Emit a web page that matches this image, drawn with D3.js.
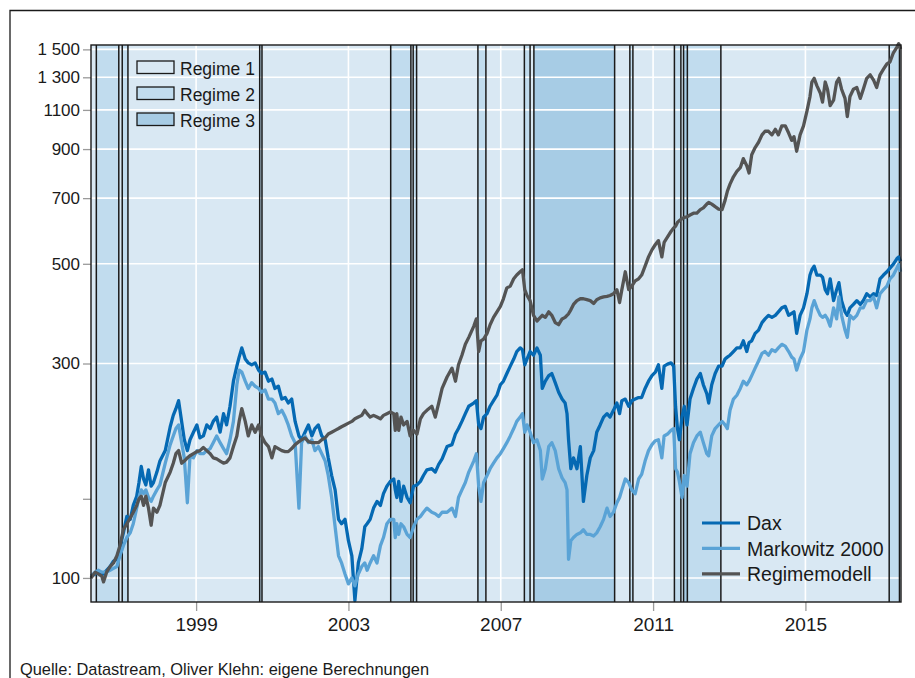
<!DOCTYPE html>
<html>
<head>
<meta charset="utf-8">
<script src="https://cdn.jsdelivr.net/npm/d3@7"></script>
<style>
  body { margin: 0; background: #fff; }
  svg { display: block; font-family: "Liberation Sans", Arial, sans-serif; }
</style>
</head>
<body>
<div id="chart-area"></div>
<script>
// time axis in decimal years, values are index points (start = 100)
const years = [
  1996.24,1996.35,1996.44,1996.52,1996.57,1996.65,1996.74,1996.83,1996.92,1997.00,
  1997.09,1997.18,1997.27,1997.35,1997.44,1997.50,1997.56,1997.62,1997.68,1997.75,
  1997.82,1997.88,1997.97,1998.05,1998.19,1998.32,1998.40,1998.47,1998.54,1998.62,
  1998.69,1998.77,1998.84,1998.93,1999.02,1999.10,1999.19,1999.28,1999.37,1999.45,
  1999.54,1999.63,1999.72,1999.80,1999.89,1999.98,2000.07,2000.13,2000.20,2000.29,
  2000.37,2000.46,2000.55,2000.64,2000.72,2000.81,2000.90,2000.99,2001.07,2001.16,
  2001.25,2001.34,2001.42,2001.51,2001.60,2001.70,2001.77,2001.86,2001.95,2002.04,
  2002.12,2002.21,2002.30,2002.39,2002.47,2002.56,2002.65,2002.74,2002.82,2002.91,
  2003.00,2003.09,2003.17,2003.26,2003.35,2003.43,
  2003.49,2003.57,2003.66,2003.75,2003.84,2003.92,2004.01,2004.10,2004.19,2004.23,
  2004.27,2004.32,2004.38,2004.45,2004.54,2004.62,2004.71,2004.80,2004.89,2004.97,
  2005.06,2005.19,2005.28,2005.37,2005.46,2005.59,2005.72,2005.81,2005.89,2005.98,
  2006.07,2006.16,2006.29,2006.36,2006.42,2006.48,2006.55,2006.64,2006.72,2006.81,
  2006.90,2006.99,2007.07,2007.16,2007.25,2007.34,2007.42,2007.51,2007.57,2007.63,
  2007.69,2007.77,2007.86,2007.95,2008.04,2008.09,2008.17,2008.26,2008.34,2008.43,
  2008.52,2008.61,2008.69,2008.74,2008.78,2008.84,2008.91,2009.00,2009.09,2009.17,
  2009.26,2009.35,2009.44,2009.52,2009.61,2009.70,2009.79,2009.87,2009.96,2010.05,
  2010.12,2010.18,2010.27,2010.36,2010.44,2010.53,2010.62,
  2010.70,2010.79,2010.88,2010.97,2011.06,2011.14,2011.23,2011.29,2011.38,2011.47,
  2011.54,2011.59,2011.64,2011.69,2011.76,2011.82,2011.89,2011.97,2012.06,2012.15,
  2012.24,2012.32,2012.41,2012.46,2012.54,2012.63,2012.72,2012.81,2012.89,2012.95,
  2013.02,2013.11,2013.20,2013.29,2013.37,2013.46,2013.52,2013.59,2013.68,2013.77,
  2013.86,2013.94,2014.03,2014.12,2014.21,2014.29,2014.38,2014.47,2014.56,2014.64,
  2014.70,2014.77,2014.86,2014.95,2015.04,2015.12,2015.17,2015.23,2015.30,2015.39,
  2015.45,2015.52,2015.58,2015.65,2015.74,2015.82,2015.88,2015.95,2016.04,2016.10,
  2016.17,2016.26,2016.35,2016.44,2016.52,2016.61,2016.70,2016.79,2016.87,2016.96,
  2017.05,2017.14,2017.22,2017.31,2017.40,2017.45,2017.50
]

const dax = [
  101,102,103,102,102,104,106,109,110,117, 126,137,135,145,152,163,177,166,161,174,
  160,163,172,182,192,217,230,238,248,223, 203,192,203,211,219,205,207,219,215,223,
  228,211,232,219,241,274,296,310,325,307, 301,298,301,290,285,287,274,277,264,267,
  250,252,245,250,223,207,203,211,219,207, 215,219,207,203,185,169,157,135,132,135,
  121,112,89,108,116,130,
  132,135,143,148,145,154,160,164,166,157, 151,164,148,160,151,147,160,161,164,169,
  174,175,172,179,184,196,198,209,215,223, 232,241,245,248,219,215,228,232,241,248,
  255,269,274,285,296,307,319,325,322,298, 307,319,313,325,313,264,274,282,285,272,
  259,250,245,232,203,175,185,175,196,148, 169,185,192,211,219,228,232,228,236,245,
  232,248,250,241,248,250,252,
  252,264,274,282,287,298,264,296,299,301, 296,241,215,203,228,241,219,250,264,277,
  285,269,257,245,269,285,296,296,307,310, 313,319,325,325,337,319,334,337,350,356,
  370,377,384,380,384,391,399,402,384,388, 391,350,384,399,429,472,485,494,472,472,
  467,438,429,463,414,438,454,414,391,384, 399,406,414,406,414,429,422,429,425,463,
  472,480,489,499,513,518,506
]

const markowitz = [
  101,103,104,103,103,103,104,105,106,112, 118,123,126,132,143,151,157,154,157,151,
  148,152,157,161,180,198,207,215,219,200, 185,147,187,185,192,189,189,192,194,200,
  207,200,194,189,203,223,269,290,287,274, 264,272,267,264,259,262,250,250,245,232,
  236,228,219,207,200,143,200,207,200,203, 192,196,189,182,169,151,130,112,108,102,
  97,100,96,102,106,108,
  104,108,112,108,118,123,132,135,135,123, 132,125,132,130,125,123,130,135,137,140,
  143,140,139,137,140,140,143,137,151,157, 163,172,182,189,160,148,163,169,175,180,
  185,189,194,200,207,215,223,228,232,211, 219,211,200,203,192,166,175,196,200,192,
  175,167,163,157,110,121,123,125,126,128, 125,125,124,126,130,135,143,137,140,147,
  151,157,166,163,157,154,166,
  170,182,192,198,202,203,185,207,209,213, 215,175,172,164,151,169,160,189,200,207,
  211,200,189,187,207,215,219,223,219,215, 236,250,255,264,274,269,274,282,293,304,
  316,319,313,322,319,325,331,328,319,310, 307,290,307,319,356,377,399,414,399,384,
  380,384,377,363,399,377,422,384,356,343, 384,377,384,399,399,414,414,422,399,429,
  438,446,463,472,489,499,480
]

const regimemodell = [
  100,103,102,101,98,103,106,108,112,118, 128,132,136,140,145,150,152,145,152,143,
  131,143,140,145,163,172,180,189,192,180, 182,185,187,189,191,192,195,192,189,185,
  184,182,180,181,185,196,207,223,238,223, 207,219,211,219,207,200,196,185,196,194,
  192,191,191,194,198,201,203,205,201,200, 200,200,203,205,209,211,213,215,217,219,
  221,223,226,228,230,236,
  232,228,230,228,226,230,232,234,232,213, 232,213,228,219,223,207,213,209,226,232,
  236,241,228,245,264,280,293,274,298,313, 331,343,363,377,319,337,340,350,366,380,
  391,402,418,442,446,463,472,480,485,438, 425,414,384,373,380,384,380,391,384,370,
  366,377,380,384,387,395,406,414,418,418, 416,414,408,416,420,422,423,425,429,438,
  410,438,480,438,446,458,463,
  472,494,518,537,552,563,518,558,574,590, 601,606,618,624,630,634,636,642,648,648,
  660,666,679,685,679,670,662,660,692,725, 752,781,803,818,857,826,796,874,907,932,
  968,986,986,968,996,968,1014,1014,977,941, 959,890,968,1014,1093,1178,1269,1293,1246,1200,
  1145,1269,1223,1124,1156,1269,1293,1223,1167,1063, 1178,1223,1234,1167,1223,1293,1317,1281,1234,1317,
  1355,1393,1406,1474,1516,1545,1502
]

// regime segments: start year and regime number
const regimeStart = [1996.24, 1996.38, 1996.97, 1997.06, 1997.21, 2000.67, 2000.73, 2004.11, 2004.64, 2004.70,
  2004.79, 2006.40, 2006.61, 2007.62, 2007.77, 2007.87, 2009.99, 2010.39, 2010.47, 2011.56,
  2011.73, 2011.80, 2011.90, 2012.78, 2017.20, 2017.47]
const regimeState = [1, 2, 1, 2, 1, 2, 1, 2, 1, 2,
  1, 2, 1, 2, 1, 3, 1, 2, 1, 2,
  1, 3, 2, 1, 2, 1]
const regimeEnd = 2017.51

const yTicks = [100, 150, 300, 500, 700, 900, 1100, 1300, 1500]
const yTickLabels = ['100', '', '300', '500', '700', '900', '1100', '1 300', '1 500']
const yGrid = [100, 300, 500, 700, 900, 1100, 1300, 1500]
const xTicks = [1999, 2003, 2007, 2011, 2015]

const regimeNames = ['Regime 1', 'Regime 2', 'Regime 3']
const seriesNames = ['Dax', 'Markowitz 2000', 'Regimemodell']

const regimeColors = { 1: '#d9e8f3', 2: '#c1dcee', 3: '#a7cce5' }
const lineColors = ['#0569b3', '#5aa3d6', '#545454']

const W = 915, H = 678
const plot = { left: 91, right: 901, top: 45, bottom: 602 }

const svg = d3.select('#chart-area').append('svg')
    .attr('width', W)
    .attr('height', H)

// outer frame (clipped by the picture edges)
svg.append('path')
    .attr('d', `M10,${H} V10.5 H${W}`)
    .attr('fill', 'none')
    .attr('stroke', '#1a1a1a')
    .attr('stroke-width', 1.3)

const xScale = d3.scaleLinear()
    .domain([1996.24, regimeEnd])
    .range([plot.left, plot.right])

const yScale = d3.scaleLog()
    .domain([88.4, 1534])
    .range([plot.bottom, plot.top])

// regime background
const segs = regimeStart.map((s, i) => ({
    start: s,
    end: i < regimeStart.length - 1 ? regimeStart[i + 1] : regimeEnd,
    state: regimeState[i]
}))

svg.append('g').selectAll('rect')
    .data(segs)
    .enter().append('rect')
    .attr('x', d => xScale(d.start))
    .attr('y', plot.top)
    .attr('width', d => xScale(d.end) - xScale(d.start))
    .attr('height', plot.bottom - plot.top)
    .attr('fill', d => regimeColors[d.state])

// grid
const grid = svg.append('g').attr('stroke', '#fff').attr('stroke-width', 1.6)
grid.selectAll('.hg').data(yGrid).enter().append('line')
    .attr('x1', plot.left).attr('x2', plot.right)
    .attr('y1', d => yScale(d)).attr('y2', d => yScale(d))
grid.selectAll('.vg').data(xTicks).enter().append('line')
    .attr('x1', d => xScale(d)).attr('x2', d => xScale(d))
    .attr('y1', plot.top).attr('y2', plot.bottom)

// regime boundaries
svg.append('g').selectAll('line')
    .data(regimeStart.slice(1))
    .enter().append('line')
    .attr('x1', d => xScale(d)).attr('x2', d => xScale(d))
    .attr('y1', plot.top).attr('y2', plot.bottom)
    .attr('stroke', '#1a1a1a')
    .attr('stroke-width', 1.5)

// axes
const yAxis = svg.append('g')
    .attr('transform', `translate(${plot.left},0)`)
    .call(d3.axisLeft(yScale).tickValues(yTicks).tickFormat((d, i) => yTickLabels[i]).tickSize(8).tickPadding(3))
const xAxis = svg.append('g')
    .attr('transform', `translate(0,${plot.bottom})`)
    .call(d3.axisBottom(xScale).tickValues(xTicks).tickFormat(d3.format('d')).tickSize(9).tickPadding(7))

for (const ax of [yAxis, xAxis]) {
    ax.select('.domain').remove()
    ax.selectAll('.tick line').attr('stroke', '#9a9a9a').attr('stroke-width', 1.3)
    ax.selectAll('.tick text').attr('fill', '#1a1a1a').attr('font-family', null)
}
yAxis.attr('font-size', 17)
xAxis.attr('font-size', 19)

// series
const seriesData = [dax, markowitz, regimemodell]
const line = d3.line()
    .x((d, i) => xScale(years[i]))
    .y(d => yScale(d))

svg.append('g').selectAll('path')
    .data(seriesData)
    .enter().append('path')
    .attr('d', line)
    .attr('fill', 'none')
    .attr('stroke', (d, i) => lineColors[i])
    .attr('stroke-width', 3.3)
    .attr('stroke-linejoin', 'round')

// plot frame
svg.append('rect')
    .attr('x', plot.left).attr('y', plot.top)
    .attr('width', plot.right - plot.left)
    .attr('height', plot.bottom - plot.top)
    .attr('fill', 'none')
    .attr('stroke', '#1a1a1a')
    .attr('stroke-width', 1.4)

// regime legend
const regLeg = svg.append('g').attr('transform', 'translate(137, 61)')
regimeNames.forEach((name, i) => {
    regLeg.append('rect')
        .attr('x', 0).attr('y', i * 26)
        .attr('width', 37).attr('height', 12.5)
        .attr('fill', regimeColors[i + 1])
        .attr('stroke', '#1a1a1a').attr('stroke-width', 1.3)
    regLeg.append('text')
        .attr('x', 43).attr('y', i * 26 + 13.5)
        .attr('font-size', 17.5)
        .attr('fill', '#1a1a1a')
        .text(name)
})

// series legend
const serLeg = svg.append('g').attr('transform', 'translate(702, 523)')
seriesNames.forEach((name, i) => {
    serLeg.append('line')
        .attr('x1', 0).attr('x2', 38)
        .attr('y1', i * 25.4).attr('y2', i * 25.4)
        .attr('stroke', lineColors[i]).attr('stroke-width', 3.2)
    serLeg.append('text')
        .attr('x', 45).attr('y', i * 25.4 + 7.3)
        .attr('font-size', 19.5)
        .attr('fill', '#1a1a1a')
        .text(name)
})

// source
svg.append('text')
    .attr('x', 20).attr('y', 675)
    .attr('font-size', 16.4)
    .attr('fill', '#1a1a1a')
    .text('Quelle: Datastream, Oliver Klehn: eigene Berechnungen')
</script>
</body>
</html>
